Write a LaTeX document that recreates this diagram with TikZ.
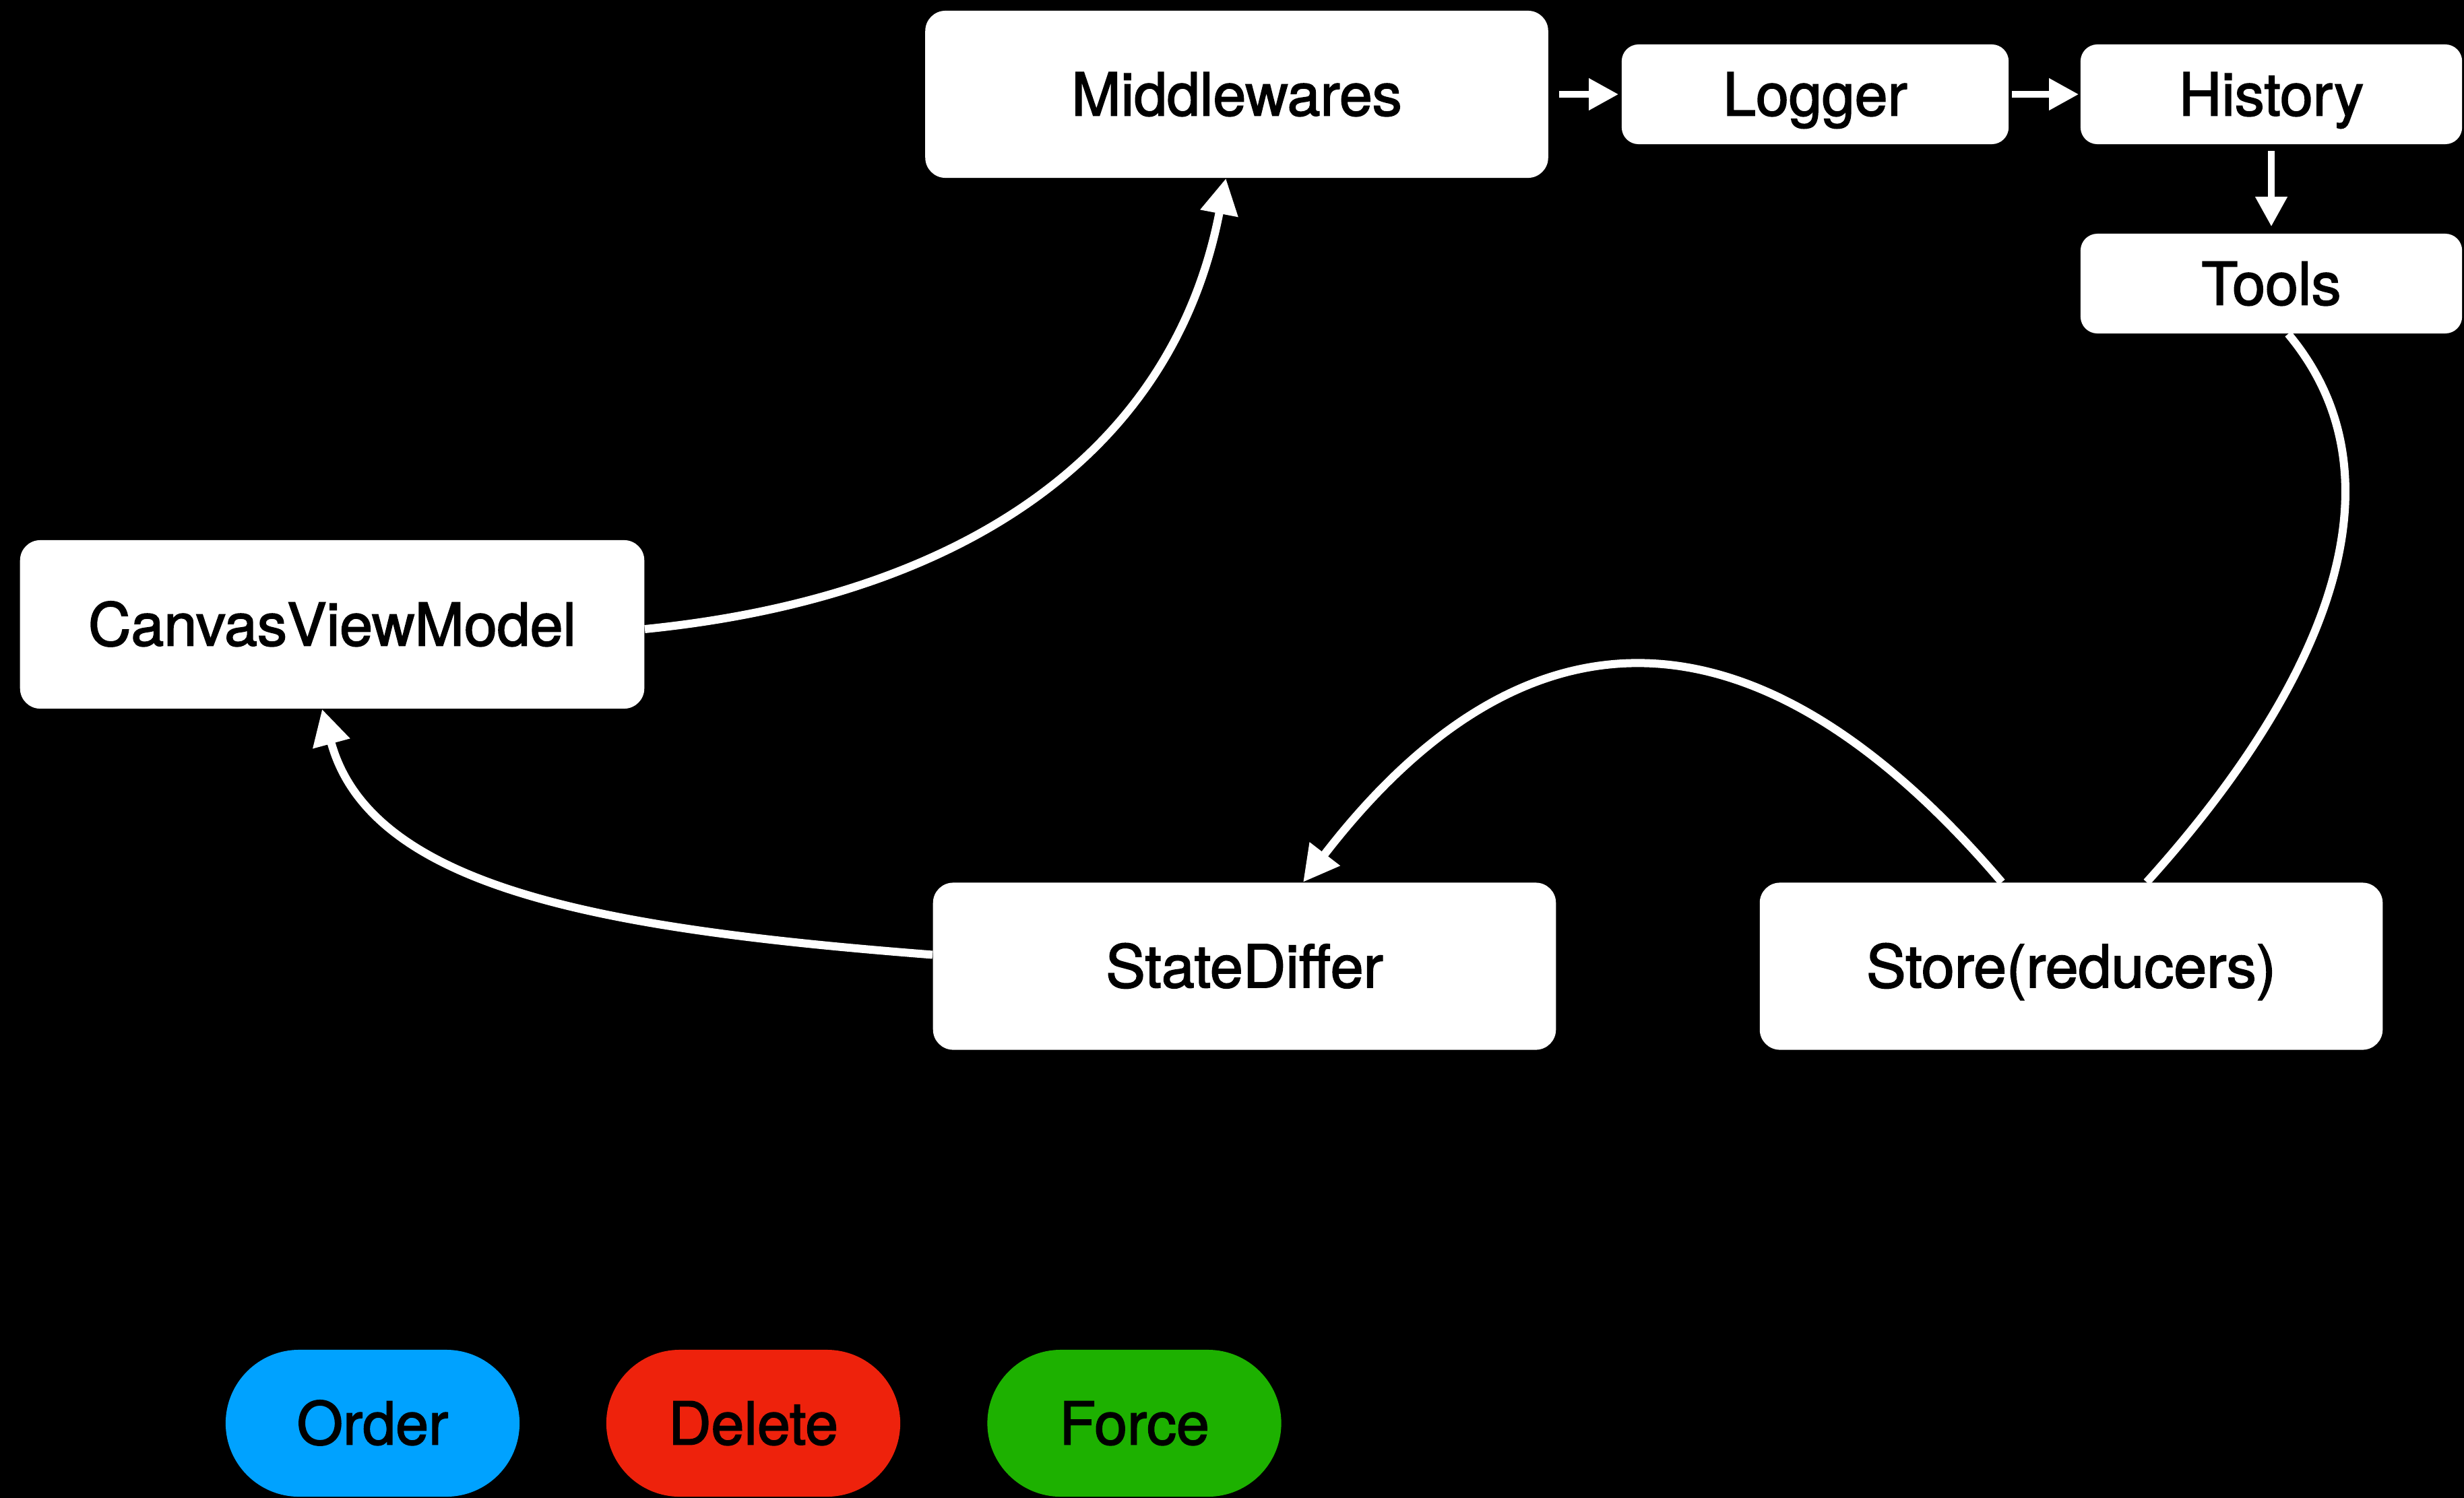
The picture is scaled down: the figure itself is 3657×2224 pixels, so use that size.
\documentclass[tikz,border=0pt]{standalone}
\usepackage{fontspec}
\setmainfont{TeX Gyre Heros}[FakeBold=2]
\usetikzlibrary{arrows.meta,calc}

\definecolor{pillblue}{HTML}{00A2FF}
\definecolor{pillred}{HTML}{EE220C}
\definecolor{pillgreen}{HTML}{1DB100}

\tikzset{
  boxfont/.style={font=\fontsize{25}{30}\selectfont, text height=17.9pt, text depth=0pt, text=black},
  bigbox/.style={boxfont, rectangle, fill=white, rounded corners=0.3cm, inner sep=0pt,
    minimum width=9.24cm, minimum height=2.48cm},
  smallbox/.style={boxfont, rectangle, fill=white, rounded corners=0.25cm, inner sep=0pt,
    minimum height=1.48cm},
  pill/.style={boxfont, rectangle, rounded corners=1.09cm, inner sep=0pt,
    minimum width=4.36cm, minimum height=2.18cm},
  flow/.style={draw=white, line width=0.12cm, -{Triangle[length=0.53cm,width=0.54cm]}},
  link/.style={draw=white, line width=0.12cm},
  hop/.style={draw=white, line width=0.1cm, -{Triangle[length=0.44cm,width=0.45cm]}},
}

\begin{document}
\begin{tikzpicture}[x=0.01cm, y=-0.01cm]
  % canvas
  \fill[black] (0,0) rectangle (3657,2224);
  \useasboundingbox (0,0) rectangle (3657,2224);

  % main stages
  \node[bigbox] (mw)    at (1835.5,140)  {Middlewares};
  \node[bigbox, minimum width=9.26cm, minimum height=2.5cm] (cvm) at (493,927) {CanvasViewModel};
  \node[bigbox] (sd)    at (1847,1434.5) {StateDiffer};
  \node[bigbox] (store) at (3074,1434.5) {Store(reducers)};

  % middleware chain
  \node[smallbox, minimum width=5.74cm] (logger)  at (2694,140)   {Logger};
  \node[smallbox, minimum width=5.66cm] (history) at (3371,140)   {History};
  \node[smallbox, minimum width=5.66cm] (tools)   at (3371,421)   {Tools};

  % action kinds
  \node[pill, fill=pillblue]  (order)  at (553,2113)    {Order};
  \node[pill, fill=pillred]   (delete) at (1118,2113)   {Delete};
  \node[pill, fill=pillgreen] (force)  at (1683.5,2113) {Force};

  % straight hops through the middleware chain
  \draw[hop, shorten <=0.15cm, shorten >=0.04cm] (mw.east) -- (logger.west);
  \draw[hop, shorten <=0.04cm, shorten >=0.02cm] (logger.east) -- (history.west);
  \draw[hop, shorten <=0.09cm, shorten >=0.1cm] (history.south) -- (tools.north);

  % data flow curves
  \draw[flow] ($(cvm.east)+(0,7)$) .. controls (1424,887) and (1740,677) .. ($(mw.south)+(-16,0)$);
  \draw[flow] ($(sd.west)+(0,-17)$) .. controls (905,1380) and (551,1322) .. ($(cvm.south)+(-15,0)$);
  \draw[flow] ($(store.north)+(-103,0)$) .. controls (2614,891) and (2269,875) .. ($(sd.north)+(87,0)$);
  \draw[link] ($(store.north)+(112,0)$) .. controls (3427,1043) and (3588,726) .. ($(tools.south)+(25,0)$);
\end{tikzpicture}
\end{document}
